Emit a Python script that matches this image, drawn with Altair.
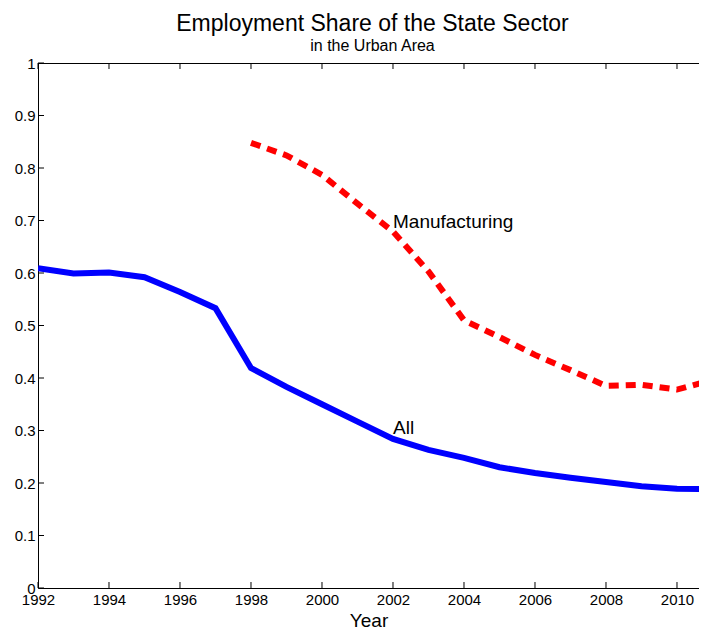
import altair as alt
import pandas as pd

# ---- data ----
years_all = list(range(1992, 2012))
share_all = [0.609, 0.599, 0.601, 0.592, 0.564, 0.533, 0.419, 0.383, 0.350, 0.317,
             0.284, 0.263, 0.248, 0.230, 0.219, 0.210, 0.202, 0.194, 0.189, 0.188]

years_mfg = list(range(1998, 2012))
share_mfg = [0.848, 0.824, 0.787, 0.732, 0.679, 0.603, 0.510, 0.478, 0.444, 0.415,
             0.385, 0.387, 0.378, 0.396]

x_ticks = [1992, 1994, 1996, 1998, 2000, 2002, 2004, 2006, 2008, 2010]
y_ticks = [0, 0.1, 0.2, 0.3, 0.4, 0.5, 0.6, 0.7, 0.8, 0.9, 1]

label_text = ["Manufacturing", "All"]
label_year = [2002, 2002]
label_value = [0.697, 0.305]

FONT = "Liberation Sans"
W, H = 661, 525
XDOM = [1992, 2010.62]

df_all = pd.DataFrame({"Year": years_all, "Share": share_all})
df_mfg = pd.DataFrame({"Year": years_mfg, "Share": share_mfg})
df_lab = pd.DataFrame({"Year": label_year, "Share": label_value, "Label": label_text})
df_xt = pd.DataFrame({"Year": x_ticks})
df_yt = pd.DataFrame({"Share": y_ticks})

xscale = alt.Scale(domain=XDOM, nice=False, zero=False)
yscale = alt.Scale(domain=[0, 1], nice=False)

x_enc = alt.X("Year:Q", scale=xscale,
              axis=alt.Axis(values=x_ticks, format="d", ticks=False, grid=False,
                            labelFont=FONT, labelFontSize=15, labelColor="black",
                            labelPadding=4, domainColor="black", domainWidth=1,
                            labelFlush=False,
                            title="Year", titleFont=FONT, titleFontSize=19,
                            titleFontWeight="normal", titleColor="black",
                            titlePadding=4))
y_enc = alt.Y("Share:Q", scale=yscale,
              axis=alt.Axis(values=y_ticks, format="~g", ticks=False, grid=False,
                            labelFont=FONT, labelFontSize=15, labelColor="black",
                            labelPadding=3, domainColor="black", domainWidth=1,
                            labelFlush=False, title=None))

line_all = alt.Chart(df_all).mark_line(color="#0000ff", strokeWidth=6, clip=True,
                                       strokeJoin="miter").encode(x=x_enc, y=y_enc)

line_mfg = alt.Chart(df_mfg).mark_line(color="#ff0000", strokeWidth=6, clip=True,
                                       strokeDash=[10, 7], strokeCap="butt").encode(
    x=alt.X("Year:Q", scale=xscale), y=alt.Y("Share:Q", scale=yscale))

labels = alt.Chart(df_lab).mark_text(align="left", baseline="middle", font=FONT,
                                     fontSize=19, color="black").encode(
    x=alt.X("Year:Q", scale=xscale), y=alt.Y("Share:Q", scale=yscale), text="Label:N")

# inward tick marks (bottom, top, left) and the top frame line
ticks_bottom = alt.Chart(df_xt).mark_rule(color="black", strokeWidth=1).encode(
    x=alt.X("Year:Q", scale=xscale), y=alt.value(H), y2=alt.value(H - 6))
ticks_top = alt.Chart(df_xt).mark_rule(color="black", strokeWidth=1).encode(
    x=alt.X("Year:Q", scale=xscale), y=alt.value(0), y2=alt.value(6))
ticks_left = alt.Chart(df_yt).mark_rule(color="black", strokeWidth=1).encode(
    y=alt.Y("Share:Q", scale=yscale), x=alt.value(0), x2=alt.value(6))
top_line = alt.Chart(df_xt).mark_rule(color="black", strokeWidth=1).encode(
    x=alt.value(0), x2=alt.value(W), y=alt.value(0.5))

chart = alt.layer(
    line_all, line_mfg, labels, ticks_bottom, ticks_top, ticks_left, top_line
).properties(
    width=W, height=H,
    title=alt.TitleParams(
        text="Employment Share of the State Sector",
        subtitle="in the Urban Area",
        font=FONT, fontSize=23, fontWeight="normal", color="black",
        subtitleFont=FONT, subtitleFontSize=16, subtitleColor="black",
        subtitlePadding=2, anchor="middle", offset=2, dx=4),
    autosize=alt.AutoSizeParams(type="none"),
    padding={"left": 30, "top": 55, "right": 0, "bottom": 41},
).configure_view(stroke=None).configure(background="white")

chart.save("out.html", embed_options={"renderer": "svg", "actions": False})
